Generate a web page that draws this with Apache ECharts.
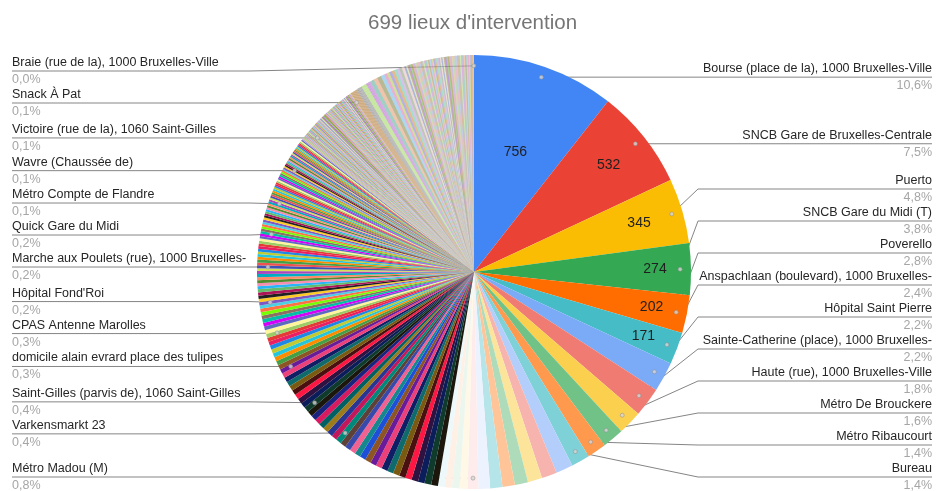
<!DOCTYPE html>
<html>
<head>
<meta charset="utf-8">
<script src="https://cdn.jsdelivr.net/npm/echarts@6/dist/echarts.min.js"></script>
<style>
html,body{margin:0;padding:0;background:#ffffff;}
#chart{width:936px;height:491px;}
</style>
</head>
<body>
<div id="chart"></div>
<script>
// ---------------- DATA ----------------
const titleText = "699 lieux d'intervention";

// names of the slices that carry a label, and their position in the sorted list
const labelNames = [
  "Bourse (place de la), 1000 Bruxelles-Ville",
  "SNCB Gare de Bruxelles-Centrale",
  "Puerto",
  "SNCB Gare du Midi (T)",
  "Poverello",
  "Anspachlaan (boulevard), 1000 Bruxelles-",
  "Hôpital Saint Pierre",
  "Sainte-Catherine (place), 1000 Bruxelles-",
  "Haute (rue), 1000 Bruxelles-Ville",
  "Métro De Brouckere",
  "Métro Ribaucourt",
  "Bureau",
  "Métro Madou (M)",
  "Varkensmarkt 23",
  "Saint-Gilles (parvis de), 1060 Saint-Gilles",
  "domicile alain evrard place des tulipes",
  "CPAS Antenne Marolles",
  "Hôpital Fond'Roi",
  "Marche aux Poulets (rue), 1000 Bruxelles-",
  "Quick Gare du Midi",
  "Métro Compte de Flandre",
  "Wavre (Chaussée de)",
  "Victoire (rue de la), 1060 Saint-Gilles",
  "Snack À Pat",
  "Braie (rue de la), 1000 Bruxelles-Ville"
];
const labelIndex = [0,1,2,3,4,5,6,7,8,9,10,11,19,41,49,58,67,76,88,101,116,138,168,217,698];

// slices whose count is written inside the pie
const insideIndex = [0,1,2,3,4,5];

// counts per place (sorted, 699 places)
const headValues = [
  756, 532, 345, 274, 202, 171, 158, 156, 128, 114, 101, 99,
  90, 82, 76, 70, 66, 65, 62, 57, 42, 40, 38, 36
];
const midValues = [
  36, 36, 35, 35, 34, 34, 34, 33, 33, 33, 32, 32, 32, 31, 31, 31, 30, 30,
  30, 30, 30, 30, 30, 29, 29, 28,
  28, 28, 27, 27, 27, 26, 26, 25, 24,
  24, 23, 23, 22, 22, 22, 21, 21, 21,
  21, 20, 20, 19, 19, 19, 18, 18, 17,
  17, 17, 17, 17, 16, 16, 16, 16, 16, 16, 15, 15,
  15, 15, 15, 14, 14, 14, 14, 14, 14, 13, 13, 13, 13,
  13, 13, 12, 12, 12, 12, 11, 11, 11, 11, 11, 11, 11, 11, 10,
  10, 10, 10, 10, 10, 10,  9, 9, 9, 9, 9, 9, 9, 9, 9, 9, 9, 9,  8, 8, 8, 8,
  8, 8, 8, 8, 8, 8, 8, 8, 8, 8,
  7, 7, 7, 7, 7, 7, 7, 7, 7, 7,
  7, 7, 7, 7, 7, 7, 7, 7, 7, 7,
  7, 7, 7, 7, 7, 7, 7, 7,
  6, 6, 6, 6, 6, 6, 6, 6, 6, 6,
  6, 6, 6, 6, 6, 6, 6, 6, 6, 6,
  6, 6, 6, 6, 6, 6, 6, 6, 6, 6,
  5, 5, 5, 5, 5, 5, 5, 5, 5, 5,
  5
];
const tailValues = [
  5,5,5,5,5,5,5,5,5,5,
  4,4,4,4,4,4,4,4,4,4,
  4,4,4,4,4,
  3,3,3,3,3,3,3,3,3,3,
  3,3,3,3,3,3,3,3,3,3,
  3,3,3,3,3,3,3,3,3,3,
  2,2,2,2,2,2,2,2,2,2,
  2,2,2,2,2,2,2,2,2,2,
  2,2,2,2,2,2,2,2,2,2,
  2,2,2,2,2,2,2,2,2,2,
  2,2,2,2,2,2,2,2,2,2,
  2,2,2,2,2,2,2,2,2,2,
  1,1,1,1,1,1,1,1,1,1,  1,1,1,1,1,1,1,1,1,1,
  1,1,1,1,1,1,1,1,1,1,  1,1,1,1,1,1,1,1,1,1,
  1,1,1,1,1,1,1,1,1,1,  1,1,1,1,1,1,1,1,1,1,
  1,1,1,1,1,1,1,1,1,1,  1,1,1,1,1,1,1,1,1,1,
  1,1,1,1,1,1,1,1,1,1,  1,1,1,1,1,1,1,1,1,1,
  1,1,1,1,1,1,1,1,1,1,  1,1,1,1,1,1,1,1,1,1,
  1,1,1,1,1,1,1,1,1,1,  1,1,1,1,1,1,1,1,1,1,
  1,1,1,1,1,1,1,1,1,1,  1,1,1,1,1,1,1,1,1,1,
  1,1,1,1,1,1,1,1,1,1,  1,1,1,1,1,1,1,1,1,1,
  1,1,1,1,1,1,1,1,1,1,  1,1,1,1,1,1,1,1,1,1,
  1,1,1,1,1,1,1,1,1,1,  1,1,1,1,1,1,1,1,1,1,
  1,1,1,1,1,1,1,1,1,1,  1,1,1,1,1,1,1,1,1,1,
  1,1,1,1,1,1,1,1,1,1,  1,1,1,1,1,1,1,1,1,1,
  1,1,1,1,1,1,1,1,1,1,  1,1,1,1,1,1,1,1,1,1,
  1,1,1,1,1,1,1,1,1,1,  1,1,1,1,1,1,1,1,1,1,
  1,1,1,1,1,1,1,1,1,1,  1,1,1,1,1,1,1,1,1,1,
  1,1,1,1,1,1,1,1,1,1,  1,1,1,1,1,1,1,1,1,1,
  1,1,1,1,1,1,1,1,1,1,  1,1,1,1,1,1,1,1,1,1,
  1,1,1,1,1,1
];
const values = headValues.concat(midValues, tailValues);

// ---------------- STYLE ----------------
const FONT = 'Arial, "Liberation Sans", sans-serif';
const CX = 474, CY = 272, R = 217, TOP = 55, SHIFT_RIGHT = 8;
const DOT_K = 0.95;          // pointer dot radius (fraction of R)
const LABEL_STEP = 32;       // vertical spacing between stacked labels
const LABEL_MIN_Y = 71, LABEL_MAX_Y = 477;
const BEND_OUT = 7;          // bend point just outside the pie

const themeColors = [
  '#4285F4','#EA4335','#FBBC04','#34A853','#FF6D01','#46BDC6',
  '#7BAAF7','#F07B72','#FCD04F','#71C287','#FF994D','#7ED1D7',
  '#B3CEFB','#F7B4AE','#FDE49B','#AEDCBA','#FFC599','#B5E5E8',
  '#ECF3FE','#FDECEB','#FFF8E6','#EBF6EE','#FFF0E6','#ECF8F9'
];
const darkColors = [
  '#1b170c','#0e3b2c','#0b1d5a','#2f1240','#ff1744','#4a1010','#7a5a10','#0f6b6b',
  '#101e66','#ec407a','#6a1b9a','#8d5524','#1e4fd8','#14888c','#f06292','#3949ab',
  '#5d4037','#00897b','#c2185b','#283593','#9e7b1a','#006064','#d81b60','#1a237e'
];
const vividColors = [
  '#43a047','#fb8c00','#26c6da','#c0ca33','#1e88e5','#e91e63','#e53935','#9ccc65',
  '#fff59d','#5c6bc0','#d500f9','#00bfa5','#8d6e63','#76ff03','#ff7043','#4dd0e1',
  '#7e57c2','#ffca28','#212121','#ad1457','#66bb6a','#29b6f6','#f48fb1','#558b2f',
  '#ff8a65','#00acc1','#ab47bc','#d4e157','#3f51b5','#ef5350'
];
const mutedColors = [
  '#b39ddb','#d4c08a','#9ccc9c','#e0a0b0','#a0b8e0','#c8a070','#a8a8a8','#b8e08a',
  '#c890d8','#80c0b0','#e8b090','#a0a070','#90c8e8','#e090c0','#c0d070','#9890d8',
  '#d8a060','#80d0b8','#c8a8e0','#a0b090','#e8c8c8','#8898c8','#d0e0a0','#b08878',
  '#a070d0','#80c060','#a09040','#d898a8'
];
function sliceColor(i) {
  if (i < themeColors.length) return themeColors[i];
  if (i < 60) return darkColors[(i - 24) % darkColors.length];
  if (i < 160) return vividColors[(i - 60) % vividColors.length];
  if (i < 218) return mutedColors[(i - 160) % mutedColors.length];
  return mutedColors[(Math.floor((i - 218) / 7) + 5) % mutedColors.length];
}

const total = values.reduce((a, b) => a + b, 0);
function pctText(v) { return (v / total * 100).toFixed(1).replace('.', ',') + '%'; }

const nameByIndex = {};
labelIndex.forEach((idx, k) => { nameByIndex[idx] = labelNames[k]; });

const cumBefore = [];
values.reduce((acc, v, i) => { cumBefore[i] = acc; return acc + v; }, 0);
function midAngle(i) { return 2 * Math.PI * (cumBefore[i] + values[i] / 2) / total; }

// ---- label placement: start at the pointer dot height, stack overlapping labels around their mean
const labelY = {};
(function () {
  const left = [], right = [];
  labelIndex.forEach(i => {
    const a = midAngle(i);
    const item = { idx: i, y0: CY - DOT_K * R * Math.cos(a) };
    (Math.sin(a) >= 0 ? right : left).push(item);
  });
  function layoutSide(items) {
    items.sort((a, b) => a.y0 - b.y0);
    const clusters = items.map(it => ({ members: [it], sum: it.y0 }));
    function place(c) {
      const n = c.members.length;
      let top = c.sum / n - (n - 1) * LABEL_STEP / 2;
      top = Math.min(top, LABEL_MAX_Y - (n - 1) * LABEL_STEP);
      top = Math.max(top, LABEL_MIN_Y);
      c.top = top;
    }
    clusters.forEach(place);
    let merged = true;
    while (merged) {
      merged = false;
      for (let k = 0; k < clusters.length - 1; k++) {
        const a = clusters[k], b = clusters[k + 1];
        const aBottom = a.top + (a.members.length - 1) * LABEL_STEP;
        if (b.top - aBottom < LABEL_STEP) {
          a.members = a.members.concat(b.members);
          a.sum += b.sum;
          place(a);
          clusters.splice(k + 1, 1);
          merged = true;
          break;
        }
      }
    }
    clusters.forEach(c => c.members.forEach((m, j) => { labelY[m.idx] = c.top + j * LABEL_STEP; }));
  }
  layoutSide(left);
  layoutSide(right);
})();

const mainData = values.map((v, i) => {
  const labelled = nameByIndex[i] !== undefined;
  const item = {
    value: v,
    name: labelled ? nameByIndex[i] : ('lieu ' + (i + 1)),
    itemStyle: { color: sliceColor(i) }
  };
  if (labelled) {
    item.label = { show: true };
    item.labelLine = { show: true };
  }
  return item;
});

// pointer dots on a polar scale sharing the pie geometry
const dotData = labelIndex.map(i => [DOT_K, cumBefore[i] + values[i] / 2]);

function insideData(which) {
  return values.map((v, i) => {
    const item = { value: v, name: 'v' + i };
    if (which.indexOf(i) >= 0) item.label = { show: true };
    return item;
  });
}

const commonBox = {
  type: 'pie', top: TOP, bottom: 0, left: 0, right: 0,
  center: [CX, CY - TOP], startAngle: 90, clockwise: true,
  animation: false
};

function insideSeries(rInner, which) {
  return Object.assign({}, commonBox, {
    radius: [rInner, R],
    silent: true,
    avoidLabelOverlap: false,
    itemStyle: { color: 'rgba(0,0,0,0)', borderWidth: 0 },
    emphasis: { disabled: true },
    label: {
      show: false, position: 'inside', formatter: '{c}',
      fontSize: 14, color: '#1f1f1f', fontFamily: FONT
    },
    labelLine: { show: false },
    data: insideData(which)
  });
}

const chart = echarts.init(document.getElementById('chart'), null, { renderer: 'canvas' });
chart.setOption({
  animation: false,
  backgroundColor: '#ffffff',
  title: {
    text: titleText, left: 363, top: 8,
    textStyle: { fontSize: 20.5, fontWeight: 'normal', color: '#757575', fontFamily: FONT }
  },
  polar: { center: [CX, CY], radius: R },
  angleAxis: {
    type: 'value', min: 0, max: total, startAngle: 90, clockwise: true, show: false
  },
  radiusAxis: { type: 'value', min: 0, max: 1, show: false },
  series: [
    Object.assign({}, commonBox, {
      radius: [0, R],
      avoidLabelOverlap: true,
      itemStyle: { borderWidth: 0 },
      emphasis: { disabled: true },
      label: {
        show: false,
        alignTo: 'edge',
        edgeDistance: 12,
        minMargin: 2,
        width: 420,
        formatter: function (p) {
          return '{n|' + p.name + '}\n{p|' + pctText(p.value) + '}';
        },
        rich: {
          n: { fontSize: 12.5, color: '#262626', lineHeight: 17, fontFamily: FONT },
          p: { fontSize: 12.5, color: '#a6a6a6', lineHeight: 17, fontFamily: FONT }
        }
      },
      labelLine: {
        show: false, length: 8, length2: 0,
        lineStyle: { color: '#858585', width: 1 }
      },
      labelLayout: function (params) {
        const i = params.dataIndex;
        if (labelY[i] === undefined) return {};
        const a = midAngle(i);
        const isLeft = Math.sin(a) < 0;
        const y = labelY[i];
        const dot = [CX + DOT_K * R * Math.sin(a), CY - DOT_K * R * Math.cos(a)];
        const bendX = isLeft ? CX - R - BEND_OUT : CX + R + BEND_OUT;
        const farX = isLeft ? params.labelRect.x
                            : params.labelRect.x + params.labelRect.width + SHIFT_RIGHT;
        return {
          y: y,
          dx: isLeft ? 0 : SHIFT_RIGHT,
          labelLinePoints: [dot, [bendX, y], [farX, y]]
        };
      },
      data: mainData
    }),
    insideSeries(30, [0]),
    insideSeries(121, [1, 2]),
    insideSeries(139, [3, 4, 5]),
    {
      type: 'scatter', coordinateSystem: 'polar', silent: true, animation: false,
      symbol: 'circle', symbolSize: 4,
      itemStyle: { color: '#d6d6d6', borderColor: '#8a8a8a', borderWidth: 0.6 },
      data: dotData
    }
  ]
});
</script>
</body>
</html>
